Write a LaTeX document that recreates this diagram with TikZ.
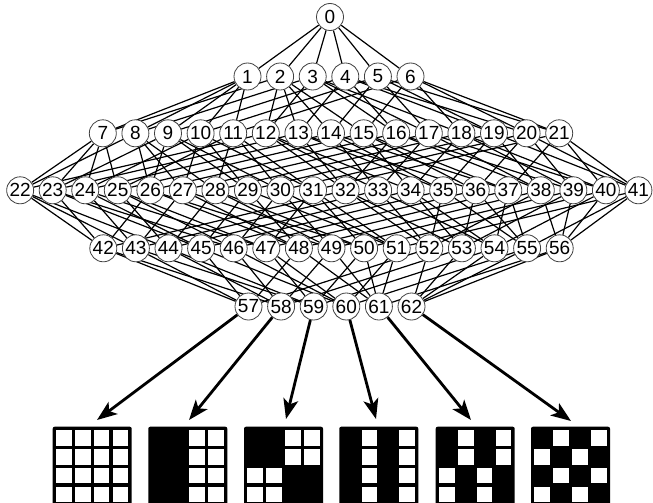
\documentclass[tikz,border=0pt]{standalone}
\usepackage{fontspec}
\setmainfont{Liberation Sans}
\usetikzlibrary{arrows.meta}
\pgfdeclarelayer{bg}
\pgfsetlayers{bg,main}
\newcommand\whcell[3]{\fill[white] ({#1+3.3+#2*18.9},{430+#3*18.9}) rectangle ++(15.6,15.6);}
\newcommand\gridframe[1]{\fill[black,rounded corners=2pt] (#1,426.7) rectangle ++(79,79);}
\begin{document}
\begin{tikzpicture}[x=1pt,y=-1pt,
  vtx/.style={circle,draw=black!75,line width=0.8pt,fill=white,minimum size=27pt,inner sep=0pt,font=\fontsize{19}{19}\selectfont},
  edge/.style={line width=1.2pt},
  bigarrow/.style={line width=2.8pt,-{Stealth[length=20pt,width=15pt,inset=5pt]}}]
\useasboundingbox (0,0) rectangle (653,503);
\clip (0,0) rectangle (653,503);
% nodes
\node[vtx] (n0) at (330,17) {0};
\foreach \i in {1,...,6} \node[vtx] (n\i) at ({329+(\i-3.5)*32.6},76.5) {\i};
\foreach \i in {7,...,21} \node[vtx] (n\i) at ({331+(\i-14)*32.6},133.3) {\i};
\foreach \i in {22,...,41} \node[vtx] (n\i) at ({329.3+(\i-31.5)*32.54},190.3) {\i};
\foreach \i in {42,...,56} \node[vtx] (n\i) at ({331.5+(\i-49)*32.6},248.3) {\i};
\foreach \i in {57,...,62} \node[vtx] (n\i) at ({330+(\i-59.5)*32.6},306.5) {\i};
% edges
\begin{pgfonlayer}{bg}
\foreach \c in {1,...,6} \draw[edge] (n0) -- (n\c);
\foreach \c/\ps in {7/{1,2},8/{1,3},9/{1,4},10/{1,5},11/{1,6},12/{2,3},13/{2,4},14/{2,5},15/{2,6},16/{3,4},17/{3,5},18/{3,6},19/{4,5},20/{4,6},21/{5,6},
  22/{7,8,12},23/{7,9,13},24/{7,10,14},25/{7,11,15},26/{8,9,16},27/{8,10,17},28/{8,11,18},29/{9,10,19},30/{9,11,20},31/{10,11,21},32/{12,13,16},33/{12,14,17},34/{12,15,18},35/{13,14,19},36/{13,15,20},37/{14,15,21},38/{16,17,19},39/{16,18,20},40/{17,18,21},41/{19,20,21},
  42/{22,23,26,32},43/{22,24,27,33},44/{22,25,28,34},45/{23,24,29,35},46/{23,25,30,36},47/{24,25,31,37},48/{26,27,29,38},49/{26,28,30,39},50/{27,28,31,40},51/{29,30,31,41},52/{32,33,35,38},53/{32,34,36,39},54/{33,34,37,40},55/{35,36,37,41},56/{38,39,40,41},
  57/{42,43,45,48,52},58/{42,44,46,49,53},59/{43,44,47,50,54},60/{45,46,47,51,55},61/{48,49,50,51,56},62/{52,53,54,55,56}}
  {\foreach \p in \ps \draw[edge] (n\p) -- (n\c);}
\end{pgfonlayer}
% arrow targets
\coordinate (t1) at (97,420);
\coordinate (t2) at (189,420);
\coordinate (t3) at (286,419);
\coordinate (t4) at (376,419);
\coordinate (t5) at (471,420);
\coordinate (t6) at (571,421);
\draw[bigarrow] (n57) -- (t1);
\draw[bigarrow] (n58) -- (t2);
\draw[bigarrow] (n59) -- (t3);
\draw[bigarrow] (n60) -- (t4);
\draw[bigarrow] (n61) -- (t5);
\draw[bigarrow] (n62) -- (t6);
% grids
\gridframe{52.7}
\foreach \c in {0,...,3} \foreach \r in {0,...,3} {\whcell{52.7}{\c}{\r}}
\gridframe{148.3}
\foreach \c in {2,3} \foreach \r in {0,...,3} {\whcell{148.3}{\c}{\r}}
\gridframe{244}
\foreach \c/\r in {2/0,3/0,2/1,3/1,0/2,1/2,0/3,1/3} {\whcell{244}{\c}{\r}}
\gridframe{339.3}
\foreach \c in {1,3} \foreach \r in {0,...,3} {\whcell{339.3}{\c}{\r}}
\gridframe{435.7}
\foreach \c/\r in {1/0,3/0,1/1,3/1,0/2,2/2,0/3,2/3} {\whcell{435.7}{\c}{\r}}
\gridframe{531}
\foreach \c/\r in {1/0,3/0,0/1,2/1,1/2,3/2,0/3,2/3} {\whcell{531}{\c}{\r}}
\end{tikzpicture}
\end{document}
